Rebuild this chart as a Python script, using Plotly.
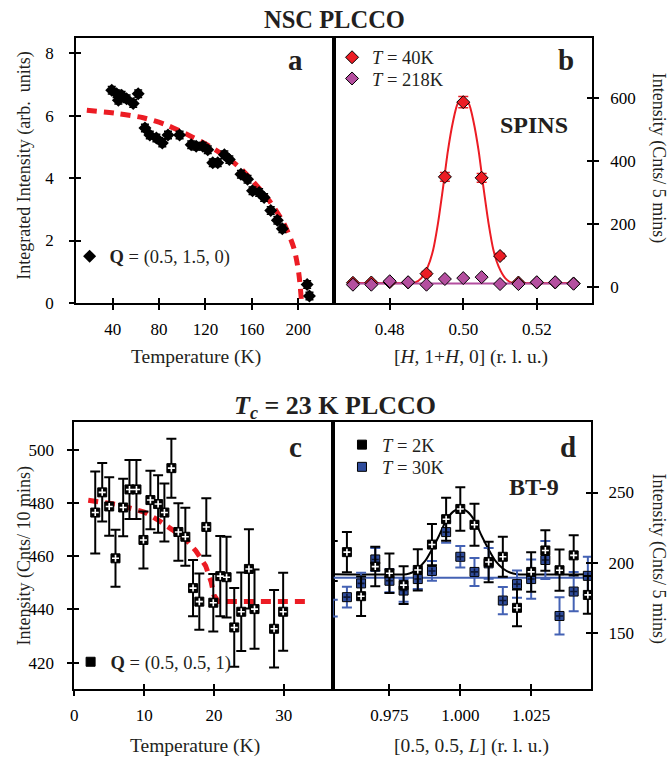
import plotly.graph_objects as go

W, H = 671, 766
FONT = "Liberation Serif"

# ---------------- data ----------------
# panel a : NSC PLCCO order parameter, Q = (0.5, 1.5, 0)
temp_a = [39.2, 43.4, 44.9, 47.7, 52.0, 57.7, 62.0, 67.8, 72.0, 77.7, 82.8, 87.7,
          97.7, 107.7, 112.0, 117.7, 122.0, 126.3, 130.6, 136.3, 140.6, 150.6,
          156.3, 160.6, 166.3, 170.6, 176.3, 182.0, 186.3, 207.7, 209.7]
int_a = [6.81, 6.70, 6.49, 6.65, 6.54, 6.39, 6.70, 5.60, 5.38, 5.28, 5.12, 5.38,
         5.38, 5.07, 5.02, 5.02, 4.91, 4.49, 4.49, 4.75, 4.59, 4.12,
         3.96, 3.59, 3.54, 3.38, 2.96, 2.65, 2.38, 0.59, 0.22]
err_a = [0.12] * len(temp_a)
fit_temp_a = [17.7, 43.4, 66.3, 86.3, 107.7, 126.3, 146.3, 160.6, 174.9, 187.7, 196.3, 200.5, 202.8]
fit_int_a = [6.17, 6.07, 5.93, 5.70, 5.33, 4.96, 4.44, 3.91, 3.28, 2.54, 1.75, 0.95, 0.05]

# panel b : SPINS scans along [H, 1+H, 0]
h_b = [0.470, 0.475, 0.480, 0.485, 0.490, 0.495, 0.500, 0.505, 0.510, 0.515, 0.520, 0.525, 0.530]
int_b_40K = [14, 15, 16, 15, 43, 350, 587, 347, 99, 15, 15, 15, 12]
err_b_40K = [4, 4, 4, 4, 7, 14, 18, 14, 8, 4, 4, 4, 4]
int_b_218K = [8, 8, 19, 16, 8, 26, 29, 32, 10, 10, 16, 16, 11]
fit_h_b40 = [0.470, 0.4850, 0.4868, 0.4886, 0.4904, 0.4918, 0.4931, 0.4945, 0.4958, 0.4972,
             0.4985, 0.5000, 0.5015, 0.5028, 0.5042, 0.5055, 0.5069, 0.5082, 0.5096,
             0.5114, 0.5132, 0.5150, 0.530]
fit_int_b40 = [13, 13, 14, 29, 66, 118, 201, 316, 431, 525, 582, 593, 582, 525, 431, 316,
               201, 118, 66, 29, 14, 13, 13]
fit_h_b218 = [0.470, 0.530]
fit_int_b218 = [12, 12]

# panel c : Tc = 23 K PLCCO, Q = (0.5, 0.5, 1)
temp_c = [3.0, 4.0, 5.0, 5.9, 7.0, 7.9, 8.9, 9.9, 10.9, 12.0, 12.9, 13.9, 14.9,
          15.9, 17.0, 17.9, 18.9, 19.9, 20.9, 21.8, 22.9, 23.9, 25.0, 25.8, 28.6, 29.9]
int_c = [476.4, 484.0, 478.7, 459.2, 478.3, 485.1, 485.1, 466.1, 481.1, 479.6, 476.4,
         493.1, 469.1, 467.3, 448.0, 442.9, 471.0, 442.5, 452.5, 452.1, 433.2, 439.1,
         455.2, 440.1, 432.7, 439.1]
err_c = [15.4, 11.0, 11.0, 10.7, 10.8, 11.1, 11.1, 10.7, 11.0, 10.8, 10.9, 11.1, 10.8,
         10.9, 10.6, 10.6, 10.8, 10.8, 15.1, 15.2, 14.8, 14.8, 14.9, 14.9, 14.6, 14.7]
fit_temp_c = [2.0, 6.0, 10.0, 12.0, 14.0, 16.0, 17.4, 18.8, 19.6, 20.0, 20.6, 33.7]
fit_int_c = [481.0, 479.5, 476.6, 473.6, 470.0, 466.2, 462.0, 456.4, 450.3, 445.3, 443.0, 443.0]

# panel d : BT-9 scans along [0.5, 0.5, L]
l_d = [0.955, 0.960, 0.965, 0.970, 0.975, 0.980, 0.985, 0.990, 0.995, 1.000,
       1.005, 1.010, 1.015, 1.020, 1.025, 1.030, 1.035, 1.040, 1.045]
int_d_2K = [201.2, 207.5, 176.1, 197.2, 192.5, 184.0, 194.8, 212.9, 231.0, 238.3,
            227.0, 200.5, 204.2, 167.8, 193.4, 208.7, 194.6, 205.2, 177.0]
err_d_2K = [14.3, 14.4, 14.1, 14.1, 14.1, 13.5, 14.7, 14.7, 15.3, 15.5,
            15.0, 14.4, 14.3, 13.1, 14.1, 14.4, 14.7, 14.4, 13.5]
int_d_30K = [167.6, 175.4, 185.2, 202.3, 187.1, 180.1, 188.3, 194.1, 221.8, 204.2,
             193.4, 199.5, 173.0, 184.7, 188.3, 201.9, 162.0, 179.4, 190.6]
err_d_30K = [6.0, 7.4, 7.6, 8.2, 8.2, 8.0, 7.0, 7.0, 7.6, 7.6,
             10.0, 11.0, 9.7, 9.7, 14.0, 13.5, 13.3, 14.0, 13.6]
fit_l_d2K = [0.955, 0.981, 0.983, 0.985, 0.9876, 0.990, 0.9924, 0.995, 0.9975, 1.000,
             1.0025, 1.005, 1.0076, 1.010, 1.0124, 1.015, 1.0175, 1.020, 1.046]
fit_int_d2K = [191.8, 191.8, 193.0, 195.8, 201.2, 209.4, 218.8, 230.1, 236.4, 238.7,
               236.4, 230.1, 218.8, 209.4, 201.2, 195.8, 193.0, 191.8, 191.8]
fit_l_d30K = [0.955, 1.046]
fit_int_d30K = [189.2, 189.2]

# tick values
ticks_a_x = [40, 80, 120, 160, 200]
ticks_a_y = [0, 2, 4, 6, 8]
ticks_b_x = [0.48, 0.50, 0.52]
ticks_b_x_text = ["0.48", "0.50", "0.52"]
ticks_b_y = [0, 200, 400, 600]
ticks_c_x = [0, 10, 20, 30]
ticks_c_y = [420, 440, 460, 480, 500]
ticks_d_x = [0.975, 1.000, 1.025]
ticks_d_x_text = ["0.975", "1.000", "1.025"]
ticks_d_y = [150, 200, 250]

# ---------------- colours ----------------
RED = "#ec1c24"
PURPLE = "#b44f9f"
BLUE = "#2f4c9c"
BLUE_ERR = "#4462b4"
DARK = "#231f20"


def px(x):
    return x / W


def py(y):
    return 1 - y / H


fig = go.Figure()

# ---- panel a ----
fig.add_trace(go.Scatter(x=fit_temp_a, y=fit_int_a, mode="lines", xaxis="x", yaxis="y",
                         line=dict(color=RED, width=5, dash="10px,7px", shape="spline", smoothing=0.8),
                         showlegend=False, hoverinfo="skip"))
fig.add_trace(go.Scatter(x=temp_a, y=int_a, mode="markers", xaxis="x", yaxis="y",
                         marker=dict(symbol="diamond", size=10, color="black"),
                         error_y=dict(type="data", array=err_a, color="black", thickness=1.5, width=4),
                         name="<b>Q</b> = (0.5, 1.5, 0)", legend="legend", cliponaxis=False))

# ---- panel b ----
fig.add_trace(go.Scatter(x=fit_h_b40, y=fit_int_b40, mode="lines", xaxis="x2", yaxis="y2",
                         line=dict(color=RED, width=2, shape="spline", smoothing=0.6),
                         showlegend=False, hoverinfo="skip"))
fig.add_trace(go.Scatter(x=fit_h_b218, y=fit_int_b218, mode="lines", xaxis="x2", yaxis="y2",
                         line=dict(color=PURPLE, width=2), showlegend=False, hoverinfo="skip"))
fig.add_trace(go.Scatter(x=h_b, y=int_b_40K, mode="markers", xaxis="x2", yaxis="y2",
                         marker=dict(symbol="diamond", size=10, color=RED, line=dict(color="black", width=1)),
                         error_y=dict(type="data", array=err_b_40K, color=RED, thickness=1.5, width=5),
                         name="<i>T</i> = 40K", legend="legend2", cliponaxis=False))
fig.add_trace(go.Scatter(x=h_b, y=int_b_218K, mode="markers", xaxis="x2", yaxis="y2",
                         marker=dict(symbol="diamond", size=10, color=PURPLE, line=dict(color="black", width=1)),
                         name="<i>T</i> = 218K", legend="legend5", cliponaxis=False))

# ---- panel c ----
fig.add_trace(go.Scatter(x=fit_temp_c, y=fit_int_c, mode="lines", xaxis="x3", yaxis="y3",
                         line=dict(color=RED, width=5, dash="10px,7px"),
                         showlegend=False, hoverinfo="skip"))
fig.add_trace(go.Scatter(x=temp_c, y=int_c, mode="markers", xaxis="x3", yaxis="y3",
                         marker=dict(symbol="square", size=9, color="black", line=dict(color="black", width=1)),
                         error_y=dict(type="data", array=err_c, color="black", thickness=2, width=5),
                         name="<b>Q</b> = (0.5, 0.5, 1)", legend="legend3", cliponaxis=False))
fig.add_trace(go.Scatter(x=temp_c, y=int_c, mode="markers", xaxis="x3", yaxis="y3",
                         marker=dict(symbol="cross-thin", size=5, line=dict(color="white", width=1.6)),
                         showlegend=False, hoverinfo="skip", cliponaxis=False))

# ---- panel d ----
fig.add_trace(go.Scatter(x=fit_l_d30K, y=fit_int_d30K, mode="lines", xaxis="x4", yaxis="y4",
                         line=dict(color=BLUE_ERR, width=2), showlegend=False, hoverinfo="skip"))
fig.add_trace(go.Scatter(x=fit_l_d2K, y=fit_int_d2K, mode="lines", xaxis="x4", yaxis="y4",
                         line=dict(color="black", width=2, shape="spline", smoothing=0.6),
                         showlegend=False, hoverinfo="skip"))
fig.add_trace(go.Scatter(x=l_d, y=int_d_30K, mode="markers", xaxis="x4", yaxis="y4",
                         marker=dict(symbol="square", size=9, color=BLUE, line=dict(color="black", width=1)),
                         error_y=dict(type="data", array=err_d_30K, color=BLUE_ERR, thickness=2, width=5),
                         name="<i>T</i> = 30K", legend="legend6", cliponaxis=False))
fig.add_trace(go.Scatter(x=l_d, y=int_d_30K, mode="markers", xaxis="x4", yaxis="y4",
                         marker=dict(symbol="cross-thin", size=5, line=dict(color="#0d1633", width=1.6)),
                         showlegend=False, hoverinfo="skip", cliponaxis=False))
fig.add_trace(go.Scatter(x=l_d, y=int_d_2K, mode="markers", xaxis="x4", yaxis="y4",
                         marker=dict(symbol="square", size=9, color="black", line=dict(color="black", width=1)),
                         error_y=dict(type="data", array=err_d_2K, color="black", thickness=2, width=5),
                         name="<i>T</i> = 2K", legend="legend4", cliponaxis=False))
fig.add_trace(go.Scatter(x=l_d, y=int_d_2K, mode="markers", xaxis="x4", yaxis="y4",
                         marker=dict(symbol="cross-thin", size=5, line=dict(color="white", width=1.6)),
                         showlegend=False, hoverinfo="skip", cliponaxis=False))

# dummy traces so the inside-tick overlay axes are drawn
for xa, ya in [("x5", "y"), ("x", "y5"), ("x6", "y2"), ("x2", "y6"),
               ("x7", "y3"), ("x3", "y7"), ("x8", "y4"), ("x4", "y8")]:
    fig.add_trace(go.Scatter(x=[None], y=[None], xaxis=xa, yaxis=ya, showlegend=False, hoverinfo="skip"))

tickfont = dict(family=FONT, size=17, color="black")


def base_axis(rng, tickvals, ticktext=None, **kw):
    d = dict(range=rng, tickvals=tickvals, showline=True, linecolor="black", linewidth=2,
             mirror=True, showgrid=False, zeroline=False, ticks="outside", ticklen=5,
             tickwidth=2, tickcolor="black", tickfont=tickfont, fixedrange=True)
    if ticktext is not None:
        d["ticktext"] = ticktext
    d.update(kw)
    return d


def inner_axis(rng, tickvals, overlay, anchor, side):
    return dict(range=rng, tickvals=tickvals, overlaying=overlay, anchor=anchor, side=side,
                ticks="inside", ticklen=5, tickwidth=2, tickcolor="black", showticklabels=False,
                showline=False, showgrid=False, zeroline=False, fixedrange=True)


rng_a_x = [8.6, 230.7]
rng_a_y = [0, 8.5]
rng_b_x = [0.4648, 0.5350]
rng_b_y = [-50, 792]
rng_c_x = [0, 37.04]
rng_c_y = [410.1, 510.3]
rng_d_x = [0.9551, 1.0461]
rng_d_y = [110, 300]

dom_top = [py(307), py(38)]
dom_bot = [py(698), py(428)]

fig.update_layout(
    width=W, height=H, margin=dict(l=0, r=0, t=0, b=0),
    paper_bgcolor="white", plot_bgcolor="white",
    font=dict(family=FONT, color="black"),
    xaxis=base_axis(rng_a_x, ticks_a_x, domain=[px(72.7), px(331.8)], anchor="y", ticklabelstandoff=5),
    yaxis=base_axis(rng_a_y, ticks_a_y, domain=dom_top, anchor="x", ticklabelstandoff=12),
    xaxis2=base_axis(rng_b_x, ticks_b_x, ticks_b_x_text, domain=[px(331.8), px(591.5)], anchor="y2",
                     ticklabelstandoff=5),
    yaxis2=base_axis(rng_b_y, ticks_b_y, domain=dom_top, anchor="x2", side="right", ticklabelstandoff=8),
    xaxis3=base_axis(rng_c_x, ticks_c_x, domain=[px(70.7), px(331)], anchor="y3", ticklabelstandoff=5),
    yaxis3=base_axis(rng_c_y, ticks_c_y, domain=dom_bot, anchor="x3", ticklabelstandoff=10),
    xaxis4=base_axis(rng_d_x, ticks_d_x, ticks_d_x_text, domain=[px(331), px(590.5)], anchor="y4",
                     ticklabelstandoff=5),
    yaxis4=base_axis(rng_d_y, ticks_d_y, domain=dom_bot, anchor="x4", side="right", ticklabelstandoff=7),
    xaxis5=inner_axis(rng_a_x, ticks_a_x, "x", "y", "bottom"),
    yaxis5=inner_axis(rng_a_y, ticks_a_y, "y", "x", "left"),
    xaxis6=inner_axis(rng_b_x, ticks_b_x, "x2", "y2", "bottom"),
    yaxis6=inner_axis(rng_b_y, ticks_b_y, "y2", "x2", "right"),
    xaxis7=inner_axis(rng_c_x, ticks_c_x, "x3", "y3", "bottom"),
    yaxis7=inner_axis(rng_c_y, ticks_c_y, "y3", "x3", "left"),
    xaxis8=inner_axis(rng_d_x, ticks_d_x, "x4", "y4", "bottom"),
    yaxis8=inner_axis(rng_d_y, ticks_d_y, "y4", "x4", "right"),
)

legend_common = dict(bgcolor="rgba(0,0,0,0)", borderwidth=0, font=dict(family=FONT, size=18.5, color=DARK),
                     itemwidth=30, tracegroupgap=0, xanchor="left", yanchor="middle")
fig.update_layout(
    legend=dict(x=px(66), y=py(260), **legend_common),
    legend2=dict(x=px(330), y=py(58.5), **legend_common),
    legend5=dict(x=px(330), y=py(80), **legend_common),
    legend3=dict(x=px(67), y=py(671), **legend_common),
    legend4=dict(x=px(340), y=py(451), **legend_common),
    legend6=dict(x=px(340), y=py(473.5), **legend_common),
)


def ann(text, x, y, size, bold=False, angle=0, color=DARK):
    t = f"<b>{text}</b>" if bold else text
    fig.add_annotation(text=t, x=px(x), y=py(y), xref="paper", yref="paper", showarrow=False,
                       xanchor="center", yanchor="middle", textangle=angle,
                       font=dict(family=FONT, size=size, color=color))


ann("NSC PLCCO", 332, 20, 24.5, bold=True)
ann("<i>T</i><sub><i>c</i></sub> = 23 K PLCCO", 333, 412, 26, bold=True)
ann("a", 293, 61, 29, bold=True)
ann("b", 565, 61, 29, bold=True)
ann("c", 293, 453, 29, bold=True)
ann("d", 567, 453, 29, bold=True)
ann("SPINS", 533, 127, 24, bold=True)
ann("BT-9", 533, 493, 24, bold=True)
ann("Temperature (K)", 193, 362, 19.5)
ann("[<i>H</i>, 1+<i>H</i>, 0] (r. l. u.)", 470, 362, 19.5)
ann("Temperature (K)", 192.5, 756, 19.5)
ann("[0.5, 0.5, <i>L</i>] (r. l. u.)", 470, 756, 19.5)
ann("Integrated Intensity (arb.  units)", 21, 168, 18, angle=-90)
ann("Intensity (Cnts/ 10 mins)", 21, 563, 18, angle=-90)
ann("Intensity (Cnts/ 5 mins)", 658, 160, 18, angle=90)
ann("Intensity (Cnts/ 5 mins)", 658, 566, 18, angle=90)

# the page keeps the browser's default 8 px body margin; remove it so the
# 671 x 766 figure fills the window exactly
fig.write_html("out.html", config={"displayModeBar": False},
               post_script="document.body.style.margin='0px';")
